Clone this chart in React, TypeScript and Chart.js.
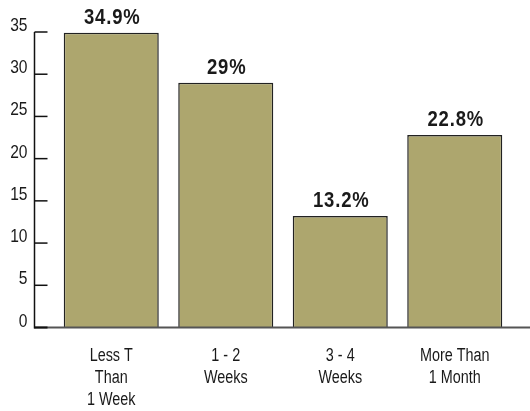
import React, { useEffect, useRef } from "react";
import { Chart, registerables } from "chart.js";

Chart.register(...registerables);

const categories: string[][] = [
  ["Less T", "Than", "1 Week"],
  ["1 - 2", "Weeks"],
  ["3 - 4", "Weeks"],
  ["More Than", "1 Month"],
];
const values: number[] = [34.9, 29, 13.2, 22.8];
const yTicks: number[] = [0, 5, 10, 15, 20, 25, 30, 35];

const FONT = '"Liberation Sans", Arial, Helvetica, sans-serif';
const TEXT = "#1a1a1a";
const NARROW = 0.8;

function narrowText(ctx: any, text: string, x: number, y: number, sx: number) {
  ctx.save();
  ctx.translate(x, y);
  ctx.scale(sx, 1);
  ctx.fillText(text, 0, 0);
  ctx.restore();
}

const axisPlugin = {
  id: "customAxis",
  afterDraw(chart: any) {
    const { ctx, chartArea, scales } = chart;
    const y = scales.y;
    const x = scales.x;
    const axisX = chartArea.left - 19.5;
    const yTop = y.getPixelForValue(y.max);
    const yBottom = y.getPixelForValue(0);
    ctx.save();
    // bottom line
    ctx.strokeStyle = "#555";
    ctx.lineWidth = 2;
    ctx.beginPath();
    ctx.moveTo(axisX, yBottom);
    ctx.lineTo(chart.width, yBottom);
    ctx.stroke();
    // vertical axis
    ctx.strokeStyle = "#111";
    ctx.lineWidth = 1.5;
    ctx.beginPath();
    ctx.moveTo(axisX, yTop);
    ctx.lineTo(axisX, yBottom + 1);
    ctx.stroke();
    // inward ticks + labels
    ctx.fillStyle = TEXT;
    ctx.font = `19px ${FONT}`;
    ctx.textAlign = "right";
    ctx.textBaseline = "alphabetic";
    yTicks.forEach((t) => {
      const py = y.getPixelForValue(t);
      ctx.lineWidth = t === 0 ? 2 : 1.5;
      ctx.beginPath();
      ctx.moveTo(axisX, py);
      ctx.lineTo(axisX + 13, py);
      ctx.stroke();
      narrowText(ctx, String(t), axisX - 7, py - 1, 0.82);
    });
    // category labels
    ctx.font = `18px ${FONT}`;
    ctx.textAlign = "center";
    categories.forEach((lines, i) => {
      const px = x.getPixelForTick(i);
      lines.forEach((line, j) => {
        narrowText(ctx, line, px, yBottom + 33 + j * 22, NARROW);
      });
    });
    // value labels
    const meta = chart.getDatasetMeta(0);
    ctx.font = `bold 22px ${FONT}`;
    ctx.textAlign = "center";
    ctx.textBaseline = "alphabetic";
    (ctx as any).letterSpacing = "1px";
    meta.data.forEach((bar: any, i: number) => {
      narrowText(ctx, `${values[i]}%`, bar.x + 1, bar.y - 9, 0.84);
    });
    ctx.restore();
  },
};

export default function App() {
  const ref = useRef<HTMLCanvasElement | null>(null);
  useEffect(() => {
    if (!ref.current) return;
    const chart = new Chart(ref.current, {
      type: "bar",
      data: {
        labels: categories,
        datasets: [
          {
            data: values,
            backgroundColor: "#ada66e",
            borderColor: "#222",
            borderWidth: 1.5,
            categoryPercentage: 1,
            barPercentage: 0.83,
          },
        ],
      },
      options: {
        animation: false,
        responsive: true,
        maintainAspectRatio: false,
        layout: { padding: { top: 32, right: 18, left: 0, bottom: 0 } },
        plugins: { legend: { display: false }, tooltip: { enabled: false } },
        scales: {
          x: {
            grid: { display: false, drawTicks: false },
            border: { display: false },
            ticks: { display: false, autoSkip: false },
            afterFit: (scale: any) => {
              scale.height = 83.5;
            },
          },
          y: {
            min: 0,
            max: 35,
            grid: { display: false, drawTicks: false },
            border: { display: false },
            ticks: { display: false, stepSize: 5 },
            afterFit: (scale: any) => {
              scale.width = 54;
            },
          },
        },
      },
      plugins: [axisPlugin],
    });
    return () => chart.destroy();
  }, []);
  return (
    <div style={{ position: "absolute", left: 0, top: 0, width: 530, height: 411 }}>
      <canvas ref={ref} />
    </div>
  );
}
